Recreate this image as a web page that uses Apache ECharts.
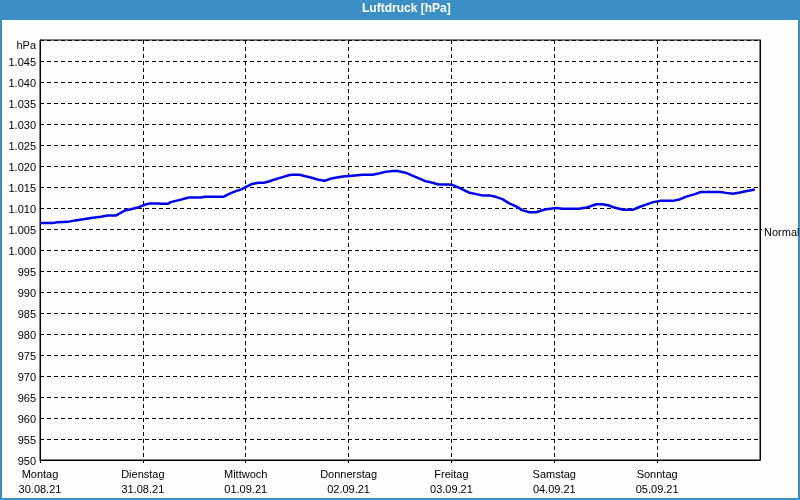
<!DOCTYPE html>
<html>
<head>
<meta charset="utf-8">
<script src="https://cdn.jsdelivr.net/npm/echarts@6/dist/echarts.min.js"></script>
<style>
html,body{margin:0;padding:0;background:#fcfdfc;}
#chart{width:800px;height:500px;}
</style>
</head>
<body>
<div id="chart"></div>
<script>
const titleText = 'Luftdruck [hPa]';
const dayNames = ['Montag','Dienstag','Mittwoch','Donnerstag','Freitag','Samstag','Sonntag'];
const dayDates = ['30.08.21','31.08.21','01.09.21','02.09.21','03.09.21','04.09.21','05.09.21'];
const yTickLabels = ['950','955','960','965','970','975','980','985','990','995',
  '1.000','1.005','1.010','1.015','1.020','1.025','1.030','1.035','1.040','1.045','hPa'];
const normalValue = 1005;
const normalLabel = 'Normal';

// hours since Monday 30.08.21 00:00
const hours = [0,3,4,6.5,8.2,10.5,11.9,14.2,15.8,17.7,18.6,19.8,21.2,22.8,24.2,25.6,27.5,28.2,29.8,30.5,
  32.9,34.7,37.7,38.4,42.9,44.0,45.4,47.1,48.2,49.4,51.0,52.2,53.4,54.8,56.4,58.0,58.7,60.6,61.7,63.4,
  65.0,66.4,68.3,70.6,72.9,75.3,77.6,79.0,80.6,82.2,83.4,85.3,86.9,88.3,89.9,91.6,93.0,95.3,96.2,97.6,
  100.0,101.8,103.2,104.9,106.5,107.9,109.5,111.1,112.5,114.2,115.8,117.0,118.1,120.5,121.9,125.8,127.5,129.8,131.2,132.8,
  134.0,136.1,138.4,140.0,141.4,143.1,144.7,147.7,149.4,150.8,152.8,154.2,158.7,160.1,161.7,163.3,164.7,166.8];
const pressure = [1006.4,1006.4,1006.6,1006.7,1007.05,1007.4,1007.6,1007.9,1008.2,1008.2,1008.7,1009.4,1009.7,1010.1,1010.7,1011.1,1011.1,1011.0,1011.0,1011.4,
  1012.0,1012.5,1012.5,1012.7,1012.7,1013.3,1013.9,1014.5,1015.1,1015.7,1016.0,1016.0,1016.3,1016.8,1017.3,1017.8,1017.9,1017.9,1017.6,1017.2,
  1016.7,1016.5,1017.1,1017.5,1017.7,1017.9,1017.9,1018.2,1018.6,1018.8,1018.8,1018.4,1017.7,1017.1,1016.4,1016.0,1015.6,1015.6,1015.5,1014.9,
  1013.7,1013.3,1013.0,1013.0,1012.6,1012.1,1011.1,1010.4,1009.5,1009.0,1009.0,1009.4,1009.7,1010.0,1009.8,1009.8,1010.1,1010.9,1010.9,1010.6,
  1010.1,1009.6,1009.6,1010.3,1010.8,1011.4,1011.7,1011.7,1012.1,1012.7,1013.3,1013.8,1013.8,1013.6,1013.4,1013.7,1014.0,1014.4];

const FONT = 'Liberation Sans';
const chart = echarts.init(document.getElementById('chart'), null, {renderer:'canvas'});
const dashed = {type:[4,3], color:'#000', width:1};

chart.setOption({
  animation:false,
  backgroundColor:'#fcfdfc',
  textStyle:{fontFamily:FONT},
  title:{
    text:titleText, left:362, top:3, padding:0,
    textStyle:{color:'#ffffff', fontSize:12, fontWeight:'bold', fontFamily:FONT}
  },
  graphic:[
    {type:'rect', shape:{x:0,y:0,width:800,height:20}, style:{fill:'#3c8fc4'}, z:-1, silent:true},
    {type:'rect', shape:{x:0,y:0,width:2,height:500}, style:{fill:'#3c8fc4'}, z:-1, silent:true},
    {type:'rect', shape:{x:798,y:0,width:2,height:500}, style:{fill:'#3c8fc4'}, z:-1, silent:true},
    {type:'rect', shape:{x:0,y:498,width:800,height:2}, style:{fill:'#3c8fc4'}, z:-1, silent:true}
  ],
  grid:{left:40, right:40, top:40, bottom:40, show:true, borderColor:'#000', borderWidth:1,
    backgroundColor:'transparent', containLabel:false, outerBoundsMode:'none'},
  xAxis:{
    type:'value', min:0, max:168, interval:24,
    axisLine:{lineStyle:{color:'#000', width:1}},
    axisTick:{show:true, length:3, lineStyle:{color:'#000'},
      customValues:dayNames.map(function(_,i){ return i*24; })},
    splitLine:{show:true, lineStyle:dashed},
    axisLabel:{
      color:'#000', fontSize:11, fontFamily:FONT, margin:7, lineHeight:15,
      formatter:function(v){ const i=Math.round(v/24); return i<dayNames.length ? dayNames[i]+'\n'+dayDates[i] : ''; }
    }
  },
  yAxis:[{
    type:'value', min:950, max:1050, interval:5,
    axisLine:{show:true, lineStyle:{color:'#000', width:1}},
    axisTick:{show:false},
    splitLine:{show:true, lineStyle:dashed},
    axisLabel:{
      color:'#000', fontSize:11, fontFamily:FONT, margin:4, padding:[4,0,0,0],
      formatter:function(v){
        const i=Math.round((v-950)/5);
        return i===yTickLabels.length-1 ? '{h|'+yTickLabels[i]+'}' : yTickLabels[i];
      },
      rich:{h:{fontSize:11, fontFamily:FONT, color:'#000', padding:[8,0,0,0]}}
    }
  },{
    type:'value', min:950, max:1050, position:'right',
    axisLine:{show:true, lineStyle:{color:'#000', width:1}},
    splitLine:{show:false},
    axisTick:{show:true, length:2, customValues:[normalValue], lineStyle:{color:'#000'}},
    axisLabel:{show:true, customValues:[normalValue], color:'#000', fontSize:11, fontFamily:FONT, margin:4,
      formatter:function(){ return '{n|'+normalLabel+'}'; },
      rich:{n:{fontSize:11, fontFamily:FONT, color:'#000', padding:[8,0,0,0]}}}
  }],
  series:[{
    type:'line', yAxisIndex:0, showSymbol:false, smooth:false,
    lineStyle:{color:'#0000ee', width:2.5},
    data:hours.map(function(h,i){ return [h, pressure[i]]; })
  }]
});
</script>
</body>
</html>
